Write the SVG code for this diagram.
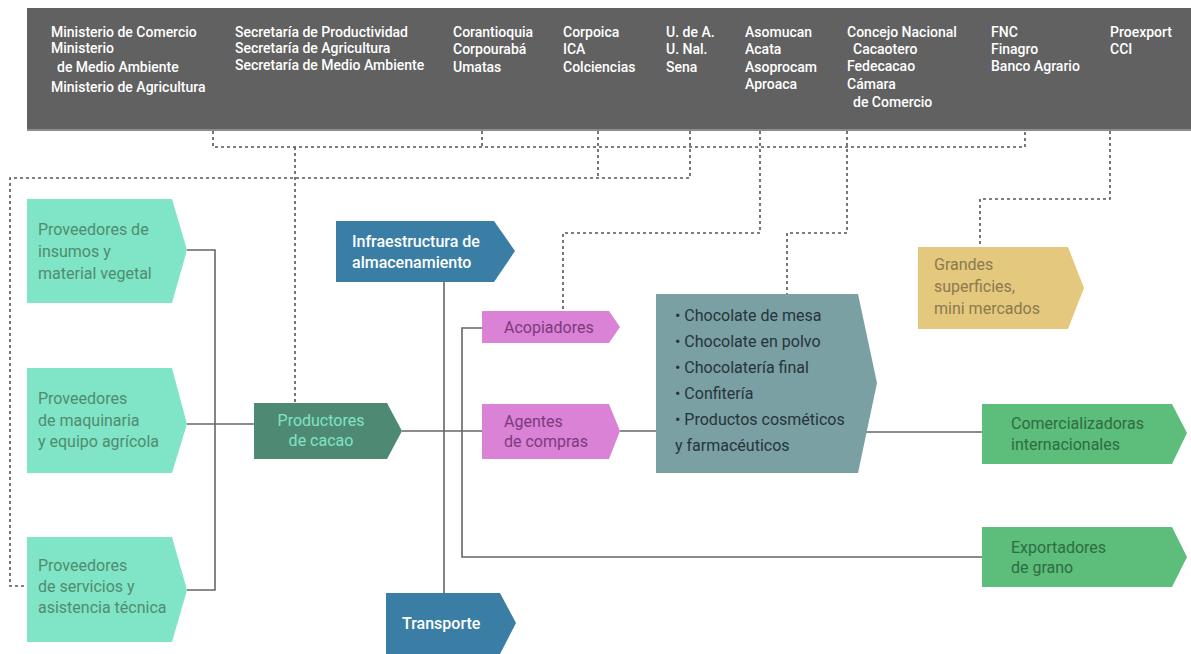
<svg xmlns="http://www.w3.org/2000/svg" width="1191" height="654" viewBox="0 0 1191 654">
<style>
  .bar { fill: #616161; }
  .bt { font-family: Roboto, "Liberation Sans", sans-serif; font-size: 14px; font-weight: 500; fill: #ffffff; }
  .nt { font-family: Roboto, "Liberation Sans", sans-serif; font-size: 16px; }
  .solid { fill: none; stroke: #666666; stroke-width: 1.6; }
  .dot { fill: none; stroke: #555555; stroke-width: 1.6; stroke-dasharray: 3 3; }
  .mint { fill: #80E4C7; }
  .mintt { fill: #4F8C6E; }
  .prod { fill: #4E8A73; }
  .prodt { fill: #7FE3C5; }
  .blue { fill: #3A7EA6; }
  .bluet { fill: #ffffff; font-weight: 500; }
  .pink { fill: #DA82D6; }
  .pinkt { fill: #7A3B7C; }
  .teal { fill: #7AA0A4; }
  .tealt { fill: #26343A; }
  .green { fill: #5CBE7A; }
  .greent { fill: #2F6B43; }
  .gold { fill: #E4C87E; }
  .goldt { fill: #8A7A4E; }
</style>

<g id="organismos">
  <rect class="bar" x="27" y="8" width="1164" height="123"/>
  <rect x="27" y="129" width="1164" height="2" fill="#8c8c8c"/>
  <text class="bt"><tspan x="51" y="37">Ministerio de Comercio</tspan><tspan x="51" y="53">Ministerio</tspan><tspan x="57" y="72">de Medio Ambiente</tspan><tspan x="51" y="92">Ministerio de Agricultura</tspan></text>
  <text class="bt"><tspan x="235" y="37">Secretaría de Productividad</tspan><tspan x="235" y="53">Secretaría de Agricultura</tspan><tspan x="235" y="70">Secretaría de Medio Ambiente</tspan></text>
  <text class="bt"><tspan x="453" y="37">Corantioquia</tspan><tspan x="453" y="53.5">Corpourabá</tspan><tspan x="453" y="71.5">Umatas</tspan></text>
  <text class="bt"><tspan x="563" y="37">Corpoica</tspan><tspan x="563" y="53.5">ICA</tspan><tspan x="563" y="71.5">Colciencias</tspan></text>
  <text class="bt"><tspan x="666" y="37">U. de A.</tspan><tspan x="666" y="53.5">U. Nal.</tspan><tspan x="666" y="71.5">Sena</tspan></text>
  <text class="bt"><tspan x="745" y="37">Asomucan</tspan><tspan x="745" y="53.5">Acata</tspan><tspan x="745" y="71.5">Asoprocam</tspan><tspan x="745" y="89">Aproaca</tspan></text>
  <text class="bt"><tspan x="847" y="37">Concejo Nacional</tspan><tspan x="853" y="53.5">Cacaotero</tspan><tspan x="847" y="71">Fedecacao</tspan><tspan x="847" y="89">Cámara</tspan><tspan x="853" y="107">de Comercio</tspan></text>
  <text class="bt"><tspan x="991" y="37">FNC</tspan><tspan x="991" y="53.5">Finagro</tspan><tspan x="991" y="71">Banco Agrario</tspan></text>
  <text class="bt"><tspan x="1110" y="37">Proexport</tspan><tspan x="1110" y="53.5">CCI</tspan></text>
</g>

<g id="connectors">
  <path class="dot" d="M213 131 V147 H1025 V131"/>
  <path class="dot" d="M482 131 V147"/>
  <path class="dot" d="M295 147 V403"/>
  <path class="dot" d="M598 131 V178"/>
  <path class="dot" d="M690 131 V178 H10 V586 H27"/>
  <path class="dot" d="M760 131 V233 H563 V311"/>
  <path class="dot" d="M847 131 V233 H787 V294"/>
  <path class="dot" d="M1110 131 V199 H980 V247"/>
  <path class="solid" d="M187 250 H215 V590 H187"/>
  <path class="solid" d="M187 424 H254"/>
  <path class="solid" d="M402 431 H482"/>
  <path class="solid" d="M620 431 H656"/>
  <path class="solid" d="M866 432 H982"/>
  <path class="solid" d="M444 282 V593"/>
  <path class="solid" d="M482 328 H462 V557 H982"/>
</g>

<g id="prov-insumos">
  <polygon class="mint" points="27,199 172,199 187,250 172,303 27,303"/>
  <text class="nt mintt"><tspan x="38" y="235">Proveedores de</tspan><tspan x="38" y="257">insumos y</tspan><tspan x="38" y="279">material vegetal</tspan></text>
</g>
<g id="prov-maquinaria">
  <polygon class="mint" points="27,368 172,368 187,424 172,473 27,473"/>
  <text class="nt mintt"><tspan x="38" y="404">Proveedores</tspan><tspan x="38" y="426">de maquinaria</tspan><tspan x="38" y="447">y equipo agrícola</tspan></text>
</g>
<g id="prov-servicios">
  <polygon class="mint" points="27,537 172,537 187,590 172,642 27,642"/>
  <text class="nt mintt"><tspan x="38" y="571">Proveedores</tspan><tspan x="38" y="592">de servicios y</tspan><tspan x="38" y="613">asistencia técnica</tspan></text>
</g>
<g id="productores">
  <polygon class="prod" points="254,403 387,403 402,431 387,459 254,459"/>
  <text class="nt prodt" text-anchor="middle"><tspan x="321" y="426">Productores</tspan><tspan x="321" y="446">de cacao</tspan></text>
</g>
<g id="infraestructura">
  <polygon class="blue" points="336,221 494,221 515,251 494,282 336,282"/>
  <text class="nt bluet"><tspan x="352" y="247">Infraestructura de</tspan><tspan x="352" y="268">almacenamiento</tspan></text>
</g>
<g id="transporte">
  <polygon class="blue" points="386,593 500,593 516,623 500,654 386,654"/>
  <text class="nt bluet" x="402" y="629">Transporte</text>
</g>
<g id="acopiadores">
  <polygon class="pink" points="482,311 609,311 620,327 609,343 482,343"/>
  <text class="nt pinkt" x="504" y="333">Acopiadores</text>
</g>
<g id="agentes">
  <polygon class="pink" points="482,404 609,404 620,431 609,459 482,459"/>
  <text class="nt pinkt"><tspan x="504" y="427">Agentes</tspan><tspan x="504" y="447">de compras</tspan></text>
</g>
<g id="productos">
  <polygon class="teal" points="656,294 858,294 877,383 858,473 656,473"/>
  <text class="nt tealt"><tspan x="675" y="321">• Chocolate de mesa</tspan><tspan x="675" y="347">• Chocolate en polvo</tspan><tspan x="675" y="373">• Chocolatería final</tspan><tspan x="675" y="399">• Confitería</tspan><tspan x="675" y="425">• Productos cosméticos</tspan><tspan x="675" y="451">y farmacéuticos</tspan></text>
</g>
<g id="grandes">
  <polygon class="gold" points="918,247 1068,247 1084,288 1068,329 918,329"/>
  <text class="nt goldt"><tspan x="934" y="270">Grandes</tspan><tspan x="934" y="292">superficies,</tspan><tspan x="934" y="314">mini mercados</tspan></text>
</g>
<g id="comercializadoras">
  <polygon class="green" points="982,404 1172,404 1187,433 1172,464 982,464"/>
  <text class="nt greent"><tspan x="1011" y="429">Comercializadoras</tspan><tspan x="1011" y="450">internacionales</tspan></text>
</g>
<g id="exportadores">
  <polygon class="green" points="982,527 1172,527 1187,557 1172,587 982,587"/>
  <text class="nt greent"><tspan x="1011" y="553">Exportadores</tspan><tspan x="1011" y="573">de grano</tspan></text>
</g>
</svg>
